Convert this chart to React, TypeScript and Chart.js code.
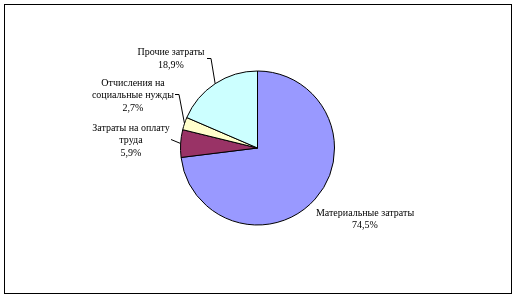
import React, { useEffect, useRef } from "react";
import { Chart, registerables } from "chart.js";

Chart.register(...registerables);

// Cost structure (percent of total)
const categoryLines: string[][] = [
  ["Материальные затраты"],
  ["Затраты на оплату", "труда"],
  ["Отчисления на", "социальные нужды"],
  ["Прочие затраты"],
];
const categories = categoryLines.map((l) => l.join(" "));
const shares = [74.5, 5.9, 2.7, 18.9];
const shareLabels = ["74,5%", "5,9%", "2,7%", "18,9%"];
const sliceColors = ["#9999FF", "#993366", "#FFFFCC", "#CCFFFF"];

const FONT = '10px "Liberation Serif", "Times New Roman", serif';
const LINE_H = 12.5;

// Label placement relative to the pie centre: text centre, first-line middle,
// and an optional leader line (start, elbow) that ends on the slice edge.
type Placement = { dx: number; dy: number; leader?: [number, number][] };
const placements: Placement[] = [
  { dx: 107.5, dy: 65 },
  { dx: -126.5, dy: -20, leader: [[-86.5, -9], [-86.5, -9]] },
  { dx: -124.5, dy: -65, leader: [[-82.5, -54], [-78.5, -54]] },
  { dx: -86.5, dy: -95.5, leader: [[-50.5, -90], [-46.5, -90]] },
];

const framePlugin = {
  id: "frame",
  beforeDraw(chart: Chart) {
    const ctx = chart.ctx;
    ctx.save();
    ctx.fillStyle = "#ffffff";
    ctx.fillRect(0, 0, chart.width, chart.height);
    ctx.strokeStyle = "#000000";
    ctx.lineWidth = 1;
    ctx.strokeRect(4.5, 4.5, chart.width - 9, chart.height - 9);
    ctx.restore();
  },
};

const sliceLabelPlugin = {
  id: "sliceLabels",
  afterDraw(chart: Chart) {
    const ctx = chart.ctx;
    const meta = chart.getDatasetMeta(0);
    ctx.save();
    ctx.font = FONT;
    ctx.fillStyle = "#000000";
    ctx.strokeStyle = "#000000";
    ctx.lineWidth = 1;
    ctx.textAlign = "center";
    ctx.textBaseline = "middle";
    meta.data.forEach((el: any, i: number) => {
      const { x, y, startAngle, endAngle, outerRadius } = el.getProps(
        ["x", "y", "startAngle", "endAngle", "outerRadius"],
        true
      );
      const p = placements[i];
      const lines = [...categoryLines[i], shareLabels[i]];
      lines.forEach((t, k) => {
        ctx.fillText(t, x + p.dx, y + p.dy + k * LINE_H);
      });
      if (p.leader) {
        const mid = (startAngle + endAngle) / 2;
        const ex = x + Math.cos(mid) * outerRadius;
        const ey = y + Math.sin(mid) * outerRadius;
        ctx.beginPath();
        ctx.moveTo(x + p.leader[0][0], y + p.leader[0][1] + 0.5);
        ctx.lineTo(x + p.leader[1][0], y + p.leader[1][1] + 0.5);
        ctx.lineTo(ex, ey);
        ctx.stroke();
      }
    });
    ctx.restore();
  },
};

export default function App() {
  const canvasRef = useRef<HTMLCanvasElement | null>(null);

  useEffect(() => {
    if (!canvasRef.current) return;
    const chart = new Chart(canvasRef.current, {
      type: "pie",
      data: {
        labels: categories,
        datasets: [
          {
            data: shares,
            backgroundColor: sliceColors,
            borderColor: "#000000",
            borderWidth: 1,
          },
        ],
      },
      options: {
        responsive: false,
        animation: false,
        radius: 77,
        layout: { padding: { left: 180, right: 181, top: 71, bottom: 73 } },
        plugins: {
          legend: { display: false },
          tooltip: { enabled: false },
        },
      } as any,
      plugins: [framePlugin, sliceLabelPlugin],
    });
    return () => chart.destroy();
  }, []);

  return (
    <div style={{ position: "fixed", left: 0, top: 0, width: 516, height: 298, background: "#fff" }}>
      <canvas ref={canvasRef} width={516} height={298} style={{ display: "block" }} />
    </div>
  );
}
